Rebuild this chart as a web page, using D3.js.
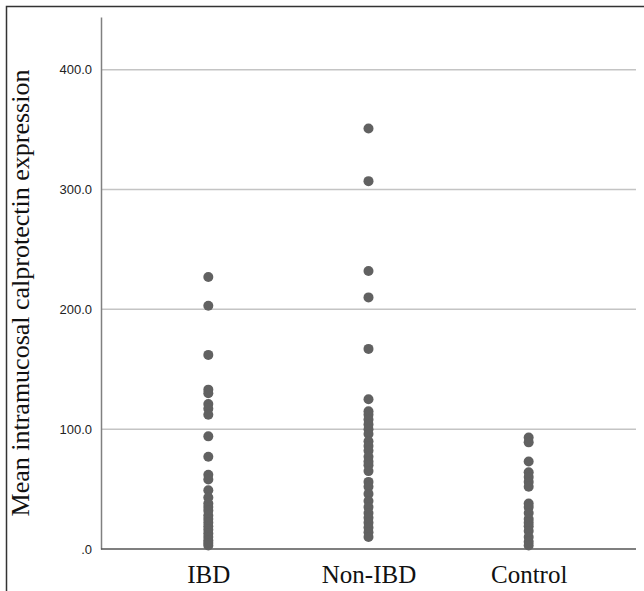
<!DOCTYPE html>
<html>
<head>
<meta charset="utf-8">
<script src="https://cdn.jsdelivr.net/npm/d3@7"></script>
<style>
  body { margin: 0; background: #fff; }
  svg { display: block; }
</style>
</head>
<body>
<svg id="chart" width="644" height="591"></svg>
<script>
// groups and the per-group values
const groups = ["IBD", "Non-IBD", "Control"];
const ibd = [227, 203, 162, 133, 130, 121, 117, 112, 94, 77, 62, 58, 49, 43, 38, 35, 32, 28, 25, 22, 19, 16, 13, 10, 7, 5, 3];
const nonIbd = [351, 307, 232, 210, 167, 125, 115, 112, 108, 104, 100, 96, 90, 86, 82, 77, 73, 70, 65, 56, 52, 46, 40, 35, 30, 26, 22, 18, 14, 10];
const control = [93, 89, 73, 64, 60, 56, 52, 38, 35, 30, 25, 22, 19, 15, 10, 6, 3];
const yTicks = [0, 100, 200, 300, 400];

const values = [ibd, nonIbd, control];
const points = [];
groups.forEach((g, i) => values[i].forEach(v => points.push({ group: g, value: v })));

const svg = d3.select("#chart");
const plotLeft = 101, plotRight = 636, plotTop = 17, plotBottom = 549;

const x = d3.scalePoint().domain(groups).range([plotLeft, plotRight]).padding(0.67);
const y = d3.scaleLinear().domain([0, 444]).range([plotBottom, plotTop]);

// outer frame (only top and left edges show)
svg.append("path")
  .attr("d", "M6.5,591V6.5H644")
  .attr("fill", "none")
  .attr("stroke", "#333")
  .attr("stroke-width", 1.5);

// gridlines
svg.append("g")
  .selectAll("line")
  .data(yTicks.filter(d => d > 0))
  .join("line")
  .attr("x1", plotLeft).attr("x2", plotRight)
  .attr("y1", d => y(d)).attr("y2", d => y(d))
  .attr("stroke", "#c4c4c4")
  .attr("stroke-width", 1.5);

// y axis
const yAxis = svg.append("g")
  .attr("transform", `translate(${plotLeft},0)`)
  .call(d3.axisLeft(y).tickValues(yTicks).tickSize(0).tickPadding(9)
    .tickFormat(d => d === 0 ? ".0" : d3.format(".1f")(d)));
yAxis.select(".domain").attr("stroke", "#808080").attr("stroke-width", 1.5);
yAxis.selectAll("text")
  .attr("font-family", "Liberation Sans, Arial, sans-serif")
  .attr("font-size", 13)
  .attr("fill", "#222");

// baseline
svg.append("line")
  .attr("x1", plotLeft).attr("x2", plotRight)
  .attr("y1", y(0)).attr("y2", y(0))
  .attr("stroke", "#555")
  .attr("stroke-width", 1.5);

// x axis labels
const xAxis = svg.append("g")
  .attr("transform", `translate(0,${plotBottom})`)
  .call(d3.axisBottom(x).tickSize(0).tickPadding(16));
xAxis.select(".domain").remove();
xAxis.selectAll("text")
  .attr("font-family", "Liberation Serif, Times New Roman, serif")
  .attr("font-size", 25)
  .attr("fill", "#111");

// y title
svg.append("text")
  .attr("transform", "translate(29,293) rotate(-90)")
  .attr("text-anchor", "middle")
  .attr("font-family", "Liberation Serif, Times New Roman, serif")
  .attr("font-size", 26)
  .attr("fill", "#111")
  .text("Mean intramucosal calprotectin expression");

// dots
svg.append("g")
  .selectAll("circle")
  .data(points)
  .join("circle")
  .attr("cx", d => x(d.group))
  .attr("cy", d => y(d.value))
  .attr("r", 5)
  .attr("fill", "#616161");
</script>
</body>
</html>
